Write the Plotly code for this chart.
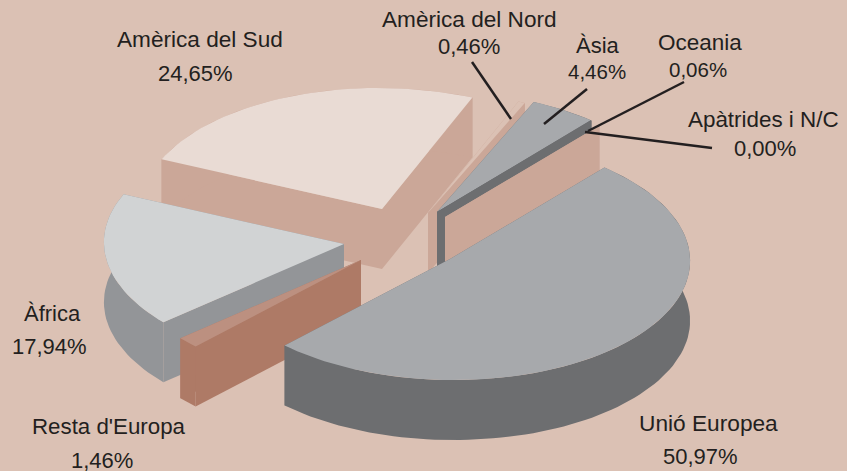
"""Exploded 3D pie, built from the shares with an oblique projection of the circle."""

import math

import plotly.graph_objects as go

# shares in drawing order round the pie, clockwise on screen from the right
categories = [
    "Unió Europea",
    "Resta d'Europa",
    "Àfrica",
    "Amèrica del Sud",
    "Amèrica del Nord",
    "Àsia",
    "Oceania",
    "Apàtrides i N/C",
]
shares = [50.97, 1.46, 17.94, 24.65, 0.46, 4.46, 0.06, 0.00]

# paint order, back to front
paint_order = [3, 4, 5, 6, 7, 2, 1, 0]

BG = "#DBC1B4"
INK = "#231F20"
top_colors = ["#A7A9AC", "#BC9080", "#D1D3D4", "#E9DBD4", BG, "#A7A9AC", BG, "#CBA798"]
wall_colors = ["#6D6E70", "#AE7A66", "#939598", "#CBA798", "#CBA798", "#6D6E70", "#6D6E70", "#CBA798"]

# explode: where each slice's apex sits on the page
apex_points = [
    (450, 259),
    (361, 260),
    (344, 244),
    (382, 209),
    (428, 213),
    (437, 212),
    (437, 212),
    (445, 217),
]

# projection of the unit circle on the page, and pie thickness
AXIS_U = (160, -89)
AXIS_V = (179, 82)
DEPTH = 60
START_DEG = -1.75


def rim_point(apex, deg, drop=0):
    rad = math.radians(deg)
    x = apex[0] + AXIS_U[0] * math.cos(rad) + AXIS_V[0] * math.sin(rad)
    y = apex[1] + AXIS_U[1] * math.cos(rad) + AXIS_V[1] * math.sin(rad) + drop
    return x, y


def rim_arc(apex, start, end, drop=0):
    steps = max(2, int(abs(end - start) / 2) + 2)
    return [rim_point(apex, start + (end - start) * i / (steps - 1), drop) for i in range(steps)]


def add_polygon(fig, points, color):
    fig.add_trace(
        go.Scatter(
            x=[p[0] for p in points] + [points[0][0]],
            y=[p[1] for p in points] + [points[0][1]],
            mode="lines",
            fill="toself",
            fillcolor=color,
            line={"width": 0, "color": color},
            hoverinfo="skip",
            showlegend=False,
        )
    )


def add_slice(fig, apex, start, end, top_color, wall_color):
    low_apex = (apex[0], apex[1] + DEPTH)
    for deg in (end, start):
        add_polygon(
            fig,
            [apex, rim_point(apex, deg), rim_point(apex, deg, DEPTH), low_apex],
            wall_color,
        )
    if end > start:
        add_polygon(
            fig,
            rim_arc(apex, start, end) + rim_arc(apex, end, start, DEPTH),
            wall_color,
        )
    add_polygon(fig, [apex] + rim_arc(apex, start, end), top_color)


fig = go.Figure()

starts = []
running = START_DEG
for share in shares:
    starts.append(running)
    running += share * 3.6

for i in paint_order:
    add_slice(
        fig,
        apex_points[i],
        starts[i],
        starts[i] + shares[i] * 3.6,
        top_colors[i],
        wall_colors[i],
    )

# leader lines
leaders = [
    ((472, 62), (511, 119)),
    ((587, 89), (544, 124)),
    ((684, 82), (588, 131)),
    ((585, 132), (712, 148)),
]
for (x0, y0), (x1, y1) in leaders:
    fig.add_shape(
        type="line", x0=x0, y0=y0, x1=x1, y1=y1,
        line={"color": INK, "width": 2.5},
    )

# label placement: name centre x, name baseline, value centre x, value baseline, sizes
label_places = {
    "Unió Europea": (708, 430, 700, 463, 22.7, 22),
    "Resta d'Europa": (109, 433, 102, 467, 22.3, 22),
    "Àfrica": (52, 320, 49, 353, 22, 22),
    "Amèrica del Sud": (200, 46, 195, 80, 22.6, 22),
    "Amèrica del Nord": (469, 26, 469, 53, 22.6, 22),
    "Àsia": (598, 52, 597, 78, 22, 20.5),
    "Oceania": (700, 49, 698, 76, 22.5, 20.5),
    "Apàtrides i N/C": (763, 126, 765, 155, 22.4, 22),
}


def add_label(fig, text, x, baseline, size):
    fig.add_annotation(
        x=x,
        y=baseline - 0.905 * size - 1,
        text=text,
        showarrow=False,
        xanchor="center",
        yanchor="top",
        font={"family": "Liberation Sans", "size": size, "color": INK},
    )


for name, share in zip(categories, shares):
    name_x, name_y, value_x, value_y, name_size, value_size = label_places[name]
    add_label(fig, name, name_x, name_y, name_size)
    add_label(fig, f"{share:.2f}%".replace(".", ","), value_x, value_y, value_size)

fig.update_layout(
    width=847,
    height=471,
    margin={"l": 0, "r": 0, "t": 0, "b": 0},
    paper_bgcolor=BG,
    plot_bgcolor=BG,
    showlegend=False,
)
fig.update_xaxes(range=[0, 847], visible=False, fixedrange=True)
fig.update_yaxes(range=[471, 0], visible=False, fixedrange=True)

fig.write_html(
    "out.html",
    config={"displayModeBar": False},
    post_script="document.body.style.margin='0';document.body.style.overflow='hidden';",
)
